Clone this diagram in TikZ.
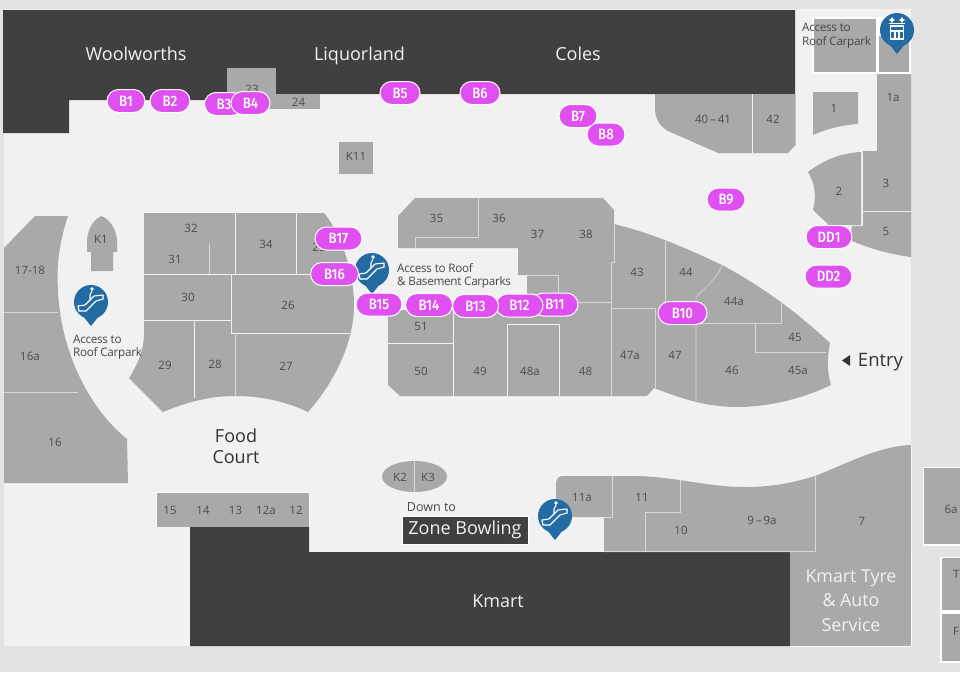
\documentclass[tikz,border=0pt]{standalone}
\usepackage{fontspec}
\setmainfont{Open Sans}
\newfontfamily\pillfont[FakeStretch=0.88]{Fira Sans Medium}
\usetikzlibrary{shapes.misc}
\definecolor{outer}{HTML}{E3E3E3}
\definecolor{floorc}{HTML}{F1F1F1}
\definecolor{shop}{HTML}{A9A9A9}
\definecolor{anchor}{HTML}{404040}
\definecolor{pinblue}{HTML}{236CA3}
\definecolor{bay}{HTML}{E04FF0}
\newcommand{\unit}[3]{\node[unitlab] (u#1) at (#2,#3) {#1};}
\newcommand{\pill}[4]{\node[bubble,minimum width=#4pt] (#1) at (#2,#3) {#1};}
\newcommand{\pinbase}[3]{
	\fill[pinblue] (#2,#3) circle (17);
	\fill[pinblue] (#2-8,#3+14) -- (#2,#3+24) -- (#2+8,#3+14) -- cycle;
	\coordinate (#1) at (#2,#3);
	}
\newcommand{\escal}[3]{
	\pinbase{#1}{#2}{#3}
	\draw[iconline] (#2-12,#3+9) -- (#2-5,#3+9) -- (#2+5,#3-1) -- (#2+12,#3-3);
	\draw[iconline] (#2-13,#3+4) -- (#2-6,#3+3) -- (#2+3,#3-6) -- (#2+12,#3-7) -- (#2+12,#3-3);
	\draw[iconline] (#2-12,#3+9) -- (#2-13,#3+4);
	\draw[iconline] (#2-1,#3-2) -- (#2-1,#3-7) -- (#2+1,#3-11);
	\fill[white] (#2+1,#3-13) circle (1.8);
	}
\begin{document}
\begin{tikzpicture}[
      x=1pt,y=-1pt,
      shopbody/.style={fill=shop},
      anchorbody/.style={fill=anchor},
      divider/.style={draw=floorc,line width=0.8pt},
      faint/.style={draw=white!55!shop,line width=0.6pt},
      iconline/.style={draw=white,line width=1.1pt,line join=round,line cap=round},
      unitlab/.style={font=\fontsize{11.5}{13}\selectfont,text=black!70,inner sep=0pt},
      bigwhite/.style={font=\fontsize{18}{21}\selectfont,text=floorc,inner sep=0pt,text height=1.5ex,text depth=0.25ex},
      smalllab/.style={font=\fontsize{11.7}{13.5}\selectfont\addfontfeature{LetterSpace=-2.5},text=black!72,inner sep=0pt,align=left,anchor=west},
      bubble/.style={rounded rectangle,fill=bay,draw=white,line width=1pt,text=white,minimum height=23pt,inner sep=0pt,font=\pillfont\fontsize{15}{15}\selectfont}
    ]
    \useasboundingbox (0,0) rectangle (960,672);
    %Page and floor
    \fill[outer] (0,0) rectangle (960,672);
    \fill[floorc] (4,9) rectangle (911,646);
    \draw[white,line width=0.8pt] (911.5,445) -- (911.5,646.5) -- (790,646.5);
    % Draw the big stores
    \path[anchorbody] (3,10) -- (795,10) -- (795,94) -- (276,94) -- (276,68) -- (227,68) -- (227,100) -- (69,100) -- (69,133) -- (3,133) -- cycle;
    \path[anchorbody] (190,527) -- (309,527) -- (309,552) -- (790,552) -- (790,646) -- (190,646) -- cycle;
    \path[shopbody] (790,552) rectangle (911,646);
    % Top row
    \path[shopbody] (227,68) rectangle (276,109);
    \path[shopbody] (276,94) rectangle (320,109);
    \path[shopbody] (339,142) rectangle (373,174);
    \path[shopbody] (655,94) -- (795.5,94) -- (795.5,145) -- (788,153) -- (718,153) -- (668,131) .. controls (659,126) and (655,118) .. (655,108) -- cycle;
    \draw[divider] (752.5,94) -- (752.5,153);
    % Top right corner
    \fill[white] (812,17) rectangle (911,74);
    \path[shopbody] (814,19) rectangle (875.5,72);
    \path[shopbody] (879,36) rectangle (909,72);
    \path[shopbody] (813,92) -- (858,92) -- (858,124) .. controls (842,125) and (826,129) .. (813,135) -- cycle;
    \path[shopbody] (877,74) -- (911,74) -- (911,211) -- (863,211) -- (863,151) -- (877,151) -- cycle;
    \path[shopbody] (863,212) -- (911,212) -- (911,257) .. controls (888,254) and (868,248) .. (850,240) -- (852,226) -- (863,226) -- cycle;
    \path[shopbody] (808,172) .. controls (822,161) and (840,153) .. (861,152) -- (861,225) -- (829,225) -- (813,210) .. controls (816,198) and (816,185) .. (808,172) -- cycle;
    % Centre block
    \path[shopbody] (398,216) -- (415,198) -- (603,198) -- (614,210) -- (614,224)
      .. controls (655,234) and (690,250) .. (722,265) .. controls (765,288) and (800,315) .. (830,343)
      .. controls (827,357) and (827,372) .. (831,385) .. controls (800,400) and (765,407) .. (738,407)
      .. controls (705,407) and (680,398) .. (654,388) -- (647,396) -- (400,396) -- (388,385) -- (388,310) -- (527,310)
      -- (527,275) -- (518,275) -- (518,248) -- (398,248) -- cycle;
    \draw[faint] (478,198) -- (478,237) -- (415,237) -- (415,248);
    \draw[faint] (527,275) -- (558,275) -- (558,302) -- (611,302);
    \draw[faint] (614,224) -- (614,262) -- (611,262) -- (611,396);
    \draw[faint] (611,308.5) -- (655,308.5) -- (655,388);
    \draw[faint] (665,241) -- (665,303);
    \draw[faint] (722,265) .. controls (716,280) and (706,286) .. (696,297) -- (696,401);
    \draw[faint] (696,323) -- (781,323) -- (781,303);
    \draw[faint] (755,323) -- (755,352) -- (826,352);
    \draw[divider] (388,343) -- (453.5,343);
    \draw[divider] (453.5,310) -- (453.5,396);
    \draw[divider] (507,396) -- (507,324) -- (559,324) -- (559,396);
    % Food court block
    \path[shopbody] (144,213) -- (324,213) .. controls (340,232) and (354,270) .. (354,305) .. controls (354,345) and (332,385) .. (308,412)
      .. controls (285,401) and (260,396) .. (235,396) .. controls (208,396) and (185,403) .. (163,412) -- (129,378) .. controls (138,364) and (144,350) .. (144,333) -- cycle;
    \draw[divider] (144,274.5) -- (350,274.5);
    \draw[divider] (235.5,213) -- (235.5,274.5);
    \draw[divider] (296,213) -- (296,274.5);
    \draw[divider] (231.5,274.5) -- (231.5,333) -- (350,333);
    \draw[divider] (144,320) -- (231.5,320);
    \draw[divider] (194.5,320) -- (194.5,398);
    \draw[faint] (235,333) -- (235,396);
    \draw[faint] (209,244) -- (209,274);
    % Left block and kiosks
    \path[shopbody] (4,248) -- (35,216) -- (68,216) .. controls (60,240) and (56,265) .. (58,290) .. controls (60,345) and (85,405) .. (127,439) -- (128,483) -- (4,483) -- cycle;
    \draw[faint] (4,312) -- (58,312);
    \draw[faint] (4,392) -- (78,392);
    \path[shopbody] (91,271) -- (91,252) -- (87,252) -- (87,240) .. controls (88,228) and (94,219) .. (101.5,216) .. controls (109,219) and (116,228) .. (117,240) -- (117,252) -- (113,252) -- (113,271) -- cycle;
    \path[shopbody] (414.5,476.5) ellipse (32.5 and 15.5);
    \draw[faint] (414.5,461) -- (414.5,492);
    % Food court strip
    \fill[white] (156,492) rectangle (310,527);
    \path[shopbody] (157,493) rectangle (309,527);
    % Bottom right shops
    \path[shopbody] (556,485) .. controls (556,479) and (558,476) .. (563,476) -- (640,476) .. controls (680,478) and (710,487) .. (745,487)
      .. controls (775,487) and (795,482) .. (815,476) .. controls (850,462) and (880,446) .. (911,445) -- (911,552) -- (604,552) -- (604,517) -- (556,517) -- cycle;
    \draw[faint] (612.5,476) -- (612.5,517) -- (604,517);
    \draw[faint] (680,479) -- (680,512) -- (645,512) -- (645,552);
    \draw[faint] (815,476) -- (815,552);
    \draw[faint] (604,551.3) -- (815,551.3);
    % Off to the right
    \fill[white] (922.5,466.5) rectangle (960,545.5);
    \path[shopbody] (924,468) rectangle (960,544);
    \fill[white] (940,556.5) rectangle (960,662.5);
    \path[shopbody] (942,558) rectangle (960,610);
    \path[shopbody] (942,614) rectangle (960,661);
    % Draw the names of the stores
    \node[bigwhite] (woolworths) at (136,57.5) {Woolworths};
    \node[bigwhite] (liquorland) at (359.5,57.5) {Liquorland};
    \node[bigwhite] (coles) at (578,57.5) {Coles};
    \node[bigwhite] (kmart) at (498,604.5) {Kmart};
    \node[font=\fontsize{17.8}{24.3}\selectfont,text=floorc,inner sep=0pt,align=center] (tyre) at (851,600.5) {Kmart Tyre\\\& Auto\\Service};
    \node[font=\fontsize{18}{21}\selectfont,text=black!80,align=center,inner sep=0pt] (food) at (236,446.5) {Food\\Court};
    \node[font=\fontsize{18.5}{20}\selectfont,text=black!80,inner sep=0pt] (entry) at (880.5,362) {Entry};
    \fill[black!80] (842,360.5) -- (850,355) -- (850,366) -- cycle;
    % Draw the unit numbers
    \unit{23}{252}{89}
    \unit{24}{298.5}{102}
    \unit{K11}{356}{156}
    \node[unitlab] (u40) at (713,119) {40\,--\,41};
    \unit{42}{773}{119}
    \unit{1}{834}{108}
    \unit{1a}{893}{97}
    \unit{2}{839}{191}
    \unit{3}{886}{183}
    \unit{5}{886}{231}
    \unit{35}{436.5}{218}
    \unit{36}{499}{218}
    \unit{37}{537.5}{234}
    \unit{38}{586}{234}
    \unit{43}{637}{272}
    \unit{44}{686}{272}
    \unit{44a}{734}{301}
    \unit{45}{795}{337}
    \unit{45a}{798}{370}
    \unit{46}{732}{370}
    \unit{47}{675}{355}
    \unit{47a}{630}{355}
    \unit{48}{585.5}{371}
    \unit{48a}{530}{371}
    \unit{49}{480}{371}
    \unit{50}{421}{371}
    \unit{51}{421}{326}
    \unit{32}{191}{228}
    \unit{31}{175}{259}
    \unit{34}{266}{244}
    \unit{25}{319}{247}
    \unit{30}{188}{297}
    \unit{26}{288}{305}
    \unit{29}{165}{365}
    \unit{28}{215}{364}
    \unit{27}{286}{366}
    \unit{K1}{101}{239}
    \unit{17-18}{30}{270}
    \unit{16a}{30}{356}
    \unit{16}{55}{442}
    \unit{15}{170}{510}
    \unit{14}{203}{510}
    \unit{13}{235.5}{510}
    \unit{12a}{266}{510}
    \unit{12}{296}{510}
    \unit{K2}{400}{477}
    \unit{K3}{428}{477}
    \unit{11a}{582}{497}
    \unit{11}{642}{497}
    \unit{10}{681}{530}
    \node[unitlab] (u9) at (762,520) {9\,--\,9a};
    \unit{7}{862}{521}
    \unit{6a}{951}{509}
    \node[unitlab,anchor=west] (u6) at (953,574) {Tl};
    \node[unitlab,anchor=west] (u8) at (953,631) {Fi};
    % Access notes
    \node[smalllab] (acc1) at (73,347) {Access to\\Roof Carpark};
    \node[smalllab] (acc2) at (397,276) {Access to Roof\\\& Basement Carparks};
    \node[smalllab] (acc3) at (802,35.5) {Access to\\Roof Carpark};
    \node[font=\fontsize{12.5}{14}\selectfont,text=black!72,inner sep=0pt] (down) at (431.5,507) {Down to};
    \node[fill=anchor,draw=white,line width=0.8pt,text=floorc,font=\fontsize{18}{20}\selectfont,minimum width=126pt,minimum height=28pt,inner sep=0pt] (zone) at (465,530) {Zone Bowling};
    % Draw the pins
    \escal{pinA}{91}{302}
    \escal{pinB}{372}{270}
    \escal{pinC}{555}{516}
    \pinbase{pinD}{897}{30}
    \draw[iconline] (890.5,26) rectangle (903.5,39);
    \draw[iconline] (890.5,31) -- (903.5,31);
    \draw[iconline] (895,31) -- (895,39);
    \draw[iconline] (899,31) -- (899,39);
    \draw[iconline] (889.5,23.5) -- (904.5,23.5);
    \draw[iconline] (892,18) -- (892,22);
    \draw[iconline] (902,18) -- (902,22);
    \draw[iconline] (890,20) -- (894,20);
    \draw[iconline] (900,20) -- (904,20);
    % Draw the bays
    \pill{B1}{126}{101}{38}
    \pill{B2}{170}{101}{40}
    \pill{B3}{224}{104}{39}
    \pill{B4}{250.5}{103}{39}
    \pill{B5}{400}{93}{40}
    \pill{B6}{480}{93}{40}
    \pill{B7}{578}{116}{38}
    \pill{B8}{606}{134.5}{38}
    \pill{B9}{726}{199.5}{38}
    \pill{B10}{682.5}{313}{49}
    \pill{B11}{555}{304.5}{46}
    \pill{B12}{519.5}{305.5}{47}
    \pill{B13}{475.5}{306}{46}
    \pill{B14}{429}{305}{47}
    \pill{B15}{379}{304.5}{46}
    \pill{B16}{334.5}{274}{48}
    \pill{B17}{338.5}{238.5}{47}
    \pill{DD1}{829}{237}{46}
    \pill{DD2}{828.5}{276.5}{47}
    \end{tikzpicture}
\end{document}
